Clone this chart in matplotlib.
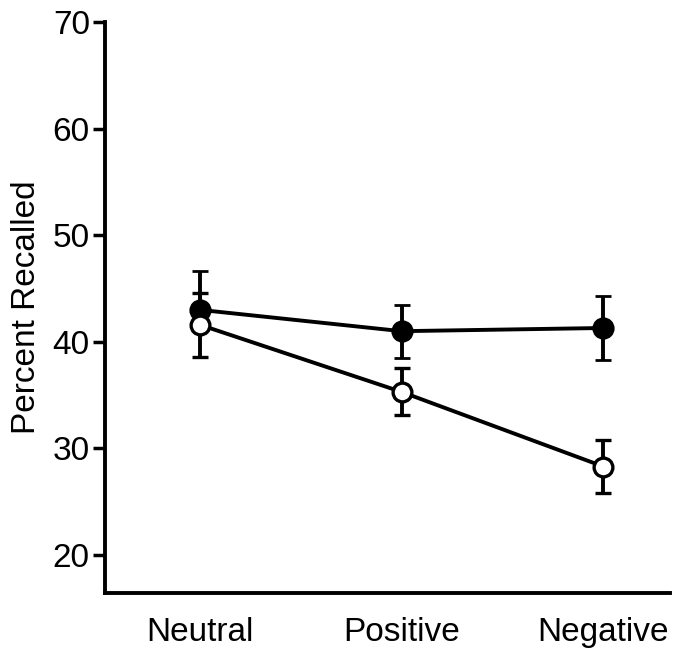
import numpy as np
import matplotlib
matplotlib.use('Agg')
import matplotlib.pyplot as plt

plt.rcParams['font.family'] = ['Liberation Sans', 'DejaVu Sans']

categories = ['Neutral', 'Positive', 'Negative']
filled_mean = [43.0, 41.0, 41.3]
filled_err_up = [3.6, 2.5, 3.0]
filled_err_low = [0.0, 2.5, 3.0]   # lower bar not drawn for Neutral
open_mean = [41.6, 35.3, 28.3]
open_err = [3.0, 2.2, 2.5]
yticks = [20, 30, 40, 50, 60, 70]

x = np.arange(len(categories))

fig = plt.figure(figsize=(6.75, 6.54), dpi=100)
ax = fig.add_axes([0.1556, 0.0933, 0.837, 0.873])

ax.errorbar(x, filled_mean, yerr=[filled_err_low, filled_err_up], color='black', lw=2.8,
            marker='o', ms=14, mfc='black', mec='black', mew=2,
            elinewidth=2.8, capsize=6, capthick=3.2, zorder=3)
ax.errorbar(x, open_mean, yerr=open_err, color='black', lw=2.8,
            marker='o', ms=13.5, mfc='white', mec='black', mew=2.4,
            elinewidth=2.8, capsize=6, capthick=3.2, zorder=4)

ax.set_xlim(-0.47, 2.33)
ax.set_ylim(16.44, 70)
ax.set_yticks(yticks)
ax.set_xticks(x)
ax.set_xticklabels(categories, fontsize=24)
ax.tick_params(axis='y', labelsize=24, length=9, width=2.5, pad=2)
ax.tick_params(axis='x', length=0, pad=17)
ax.set_ylabel('Percent Recalled', fontsize=24, labelpad=8)

for s in ['top', 'right']:
    ax.spines[s].set_visible(False)
for s in ['left', 'bottom']:
    ax.spines[s].set_linewidth(2.8)

fig.savefig('out.png', dpi=100)
